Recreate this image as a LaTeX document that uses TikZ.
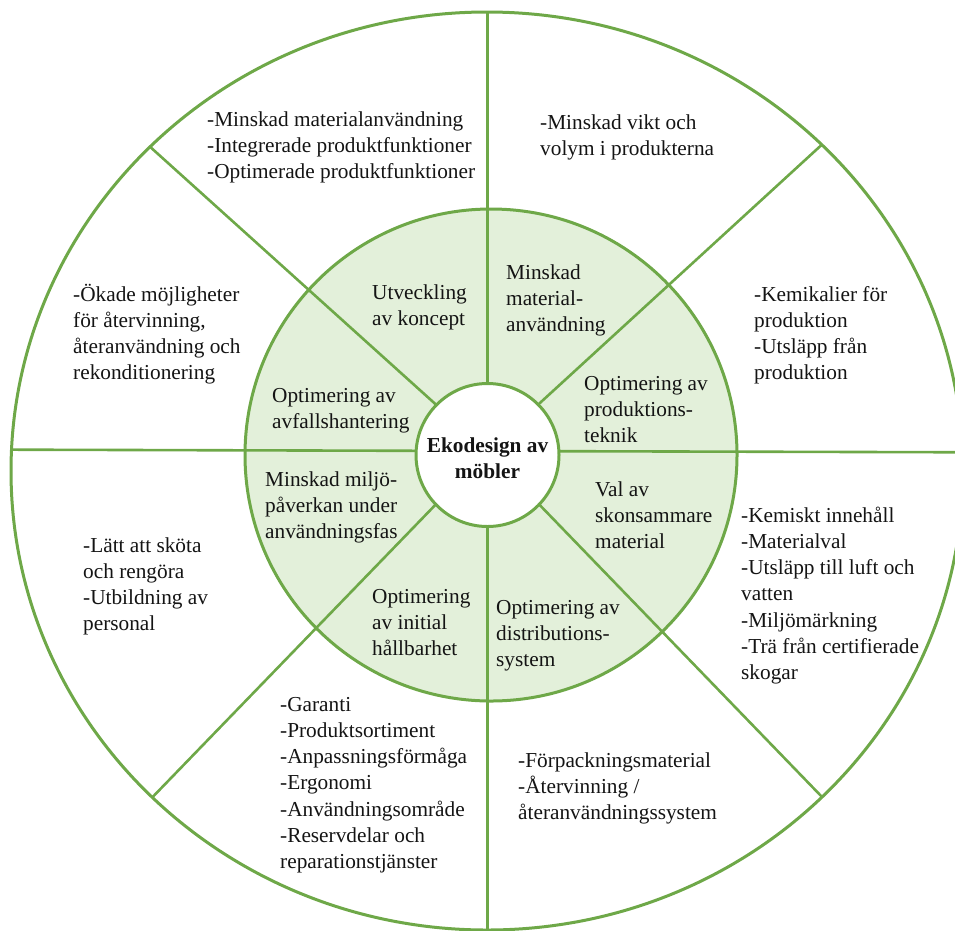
\documentclass[tikz,border=0pt]{standalone}
\usepackage{fontspec}
\setmainfont{Liberation Serif}
\definecolor{ring}{HTML}{6EA848}
\definecolor{lightg}{HTML}{E3F0DA}
\definecolor{ink}{HTML}{141414}
\newcommand{\txtfont}{\fontsize{21.3}{26.2}\selectfont}
\newcommand{\fl}{\rule{0pt}{20pt}}
\tikzset{
  txt/.style={anchor=north west, inner sep=0pt, align=left, font=\txtfont, text=ink},
  ctxt/.style={anchor=north, inner sep=0pt, align=center, font=\txtfont\bfseries, text=ink},
  spoke/.style={draw=ring, line width=2.6pt},
  rim/.style={draw=ring, line width=3pt}
}
\begin{document}
\begin{tikzpicture}[x=1pt,y=-1pt]
\useasboundingbox (0,0) rectangle (955,930);
\clip (0,0) rectangle (955,930);
% centre and far spoke ends
\coordinate (c) at (487.5,451);
\coordinate (fL) at (-50,449.5);
\coordinate (fR) at (1050,452.5);
\coordinate (fT) at (487.5,-60);
\coordinate (fB) at (487.5,1060);
\coordinate (fUL) at (-106,-84);
\coordinate (fUR) at (1078,-90);
\coordinate (fLR) at (1043.5,1026);
\coordinate (fLL) at (-69,1026);
% inner green disc
\fill[lightg] (491,455) circle (246);
\begin{scope}
  \clip (487,471) ellipse (476 and 459);
  \draw[spoke] (fL) -- (c) -- (fR);
  \draw[spoke] (fT) -- (c) -- (fB);
  \draw[spoke] (c) -- (fUL);
  \draw[spoke] (c) -- (fUR);
  \draw[spoke] (c) -- (fLR);
  \draw[spoke] (c) -- (fLL);
\end{scope}
\draw[rim] (491,455) circle (246);
\draw[rim, fill=white] (487.5,455) circle (71.5);
\draw[rim] (487,471) ellipse (476 and 459);
% centre text
\node[ctxt] (centre) at (487.5,432) {\fl Ekodesign av\\möbler};
% inner ring texts
\node[txt] (ia) at (372,279) {\fl Utveckling\\av koncept};
\node[txt] (ib) at (506,259) {\fl Minskad\\material-\\användning};
\node[txt] (ic) at (584,370) {\fl Optimering av\\produktions-\\teknik};
\node[txt] (id) at (595,476) {\fl Val av\\skonsammare\\material};
\node[txt] (ie) at (496,594) {\fl Optimering av\\distributions-\\system};
\node[txt] (if) at (372,583) {\fl Optimering\\av initial\\hållbarhet};
\node[txt] (ig) at (265,466) {\fl Minskad miljö-\\påverkan under\\användningsfas};
\node[txt] (ih) at (272,382) {\fl Optimering av\\avfallshantering};
% outer ring texts
\node[txt] (o1) at (207,106) {\fl -Minskad materialanvändning\\-Integrerade produktfunktioner\\-Optimerade produktfunktioner};
\node[txt] (o2) at (540,109) {\fl -Minskad vikt och\\volym i produkterna};
\node[txt] (o3) at (754,281) {\fl -Kemikalier för\\produktion\\-Utsläpp från\\produktion};
\node[txt] (o4) at (741,502) {\fl -Kemiskt innehåll\\-Materialval\\-Utsläpp till luft och\\vatten\\-Miljömärkning\\-Trä från certifierade\\skogar};
\node[txt] (o5) at (518,747) {\fl -Förpackningsmaterial\\-Återvinning /\\återanvändningssystem};
\node[txt] (o6) at (280,691) {\fl -Garanti\\-Produktsortiment\\-Anpassningsförmåga\\-Ergonomi\\-Användningsområde\\-Reservdelar och\\reparationstjänster};
\node[txt] (o7) at (83,532) {\fl -Lätt att sköta\\och rengöra\\-Utbildning av\\personal};
\node[txt] (o8) at (73,281) {\fl -Ökade möjligheter\\för återvinning,\\återanvändning och\\rekonditionering};
\end{tikzpicture}
\end{document}
